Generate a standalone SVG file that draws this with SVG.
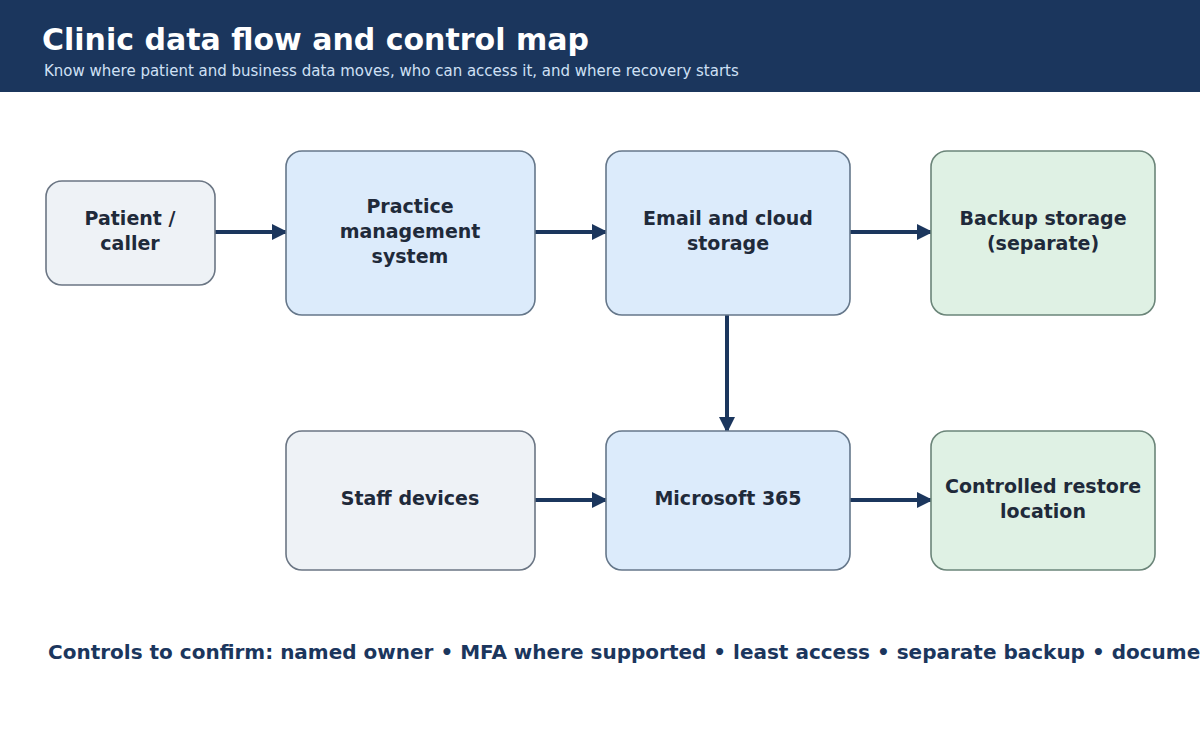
<svg xmlns="http://www.w3.org/2000/svg" width="1200" height="750" viewBox="0 0 1200 750">
<defs>
<style>
.title{font-family:"DejaVu Sans",sans-serif;font-weight:bold;font-size:30px;fill:#ffffff}
.sub{font-family:"DejaVu Sans",sans-serif;font-size:15px;fill:#cfe0f5}
.lbl{font-family:"DejaVu Sans",sans-serif;font-weight:bold;font-size:19px;fill:#1f2a3a;text-anchor:middle}
.foot{font-family:"DejaVu Sans",sans-serif;font-weight:bold;font-size:20px;fill:#1b365d}
.grey{fill:#eef2f6;stroke:#6b7684;stroke-width:1.6}
.blue{fill:#dcebfb;stroke:#65778a;stroke-width:1.6}
.green{fill:#dff1e4;stroke:#6b8579;stroke-width:1.6}
.edge{stroke:#1b365d;stroke-width:4;fill:none;marker-end:url(#arr)}
</style>
<marker id="arr" markerWidth="4" markerHeight="4" refX="3.5" refY="2" orient="auto" markerUnits="strokeWidth">
<path d="M0,0 L4,2 L0,4 Z" fill="#1b365d"/>
</marker>
</defs>
<rect x="0" y="0" width="1200" height="750" fill="#ffffff"/>
<rect x="0" y="0" width="1200" height="92" fill="#1b365d"/>
<text class="title" x="42" y="50">Clinic data flow and control map</text>
<text class="sub" x="44" y="76">Know where patient and business data moves, who can access it, and where recovery starts</text>
<g id="connectors">
<line class="edge" x1="215" y1="232" x2="286" y2="232"/>
<line class="edge" x1="535" y1="232" x2="606" y2="232"/>
<line class="edge" x1="850" y1="232" x2="931" y2="232"/>
<line class="edge" x1="727" y1="315" x2="727" y2="431"/>
<line class="edge" x1="535" y1="500" x2="606" y2="500"/>
<line class="edge" x1="850" y1="500" x2="931" y2="500"/>
</g>
<g id="patient">
<rect class="grey" x="46" y="181" width="169" height="104" rx="16"/>
<text class="lbl" x="130" y="225">Patient /</text>
<text class="lbl" x="130" y="250">caller</text>
</g>
<g id="pms">
<rect class="blue" x="286" y="151" width="249" height="164" rx="16"/>
<text class="lbl" x="410" y="213">Practice</text>
<text class="lbl" x="410" y="238">management</text>
<text class="lbl" x="410" y="263">system</text>
</g>
<g id="email">
<rect class="blue" x="606" y="151" width="244" height="164" rx="16"/>
<text class="lbl" x="728" y="225">Email and cloud</text>
<text class="lbl" x="728" y="250">storage</text>
</g>
<g id="backup">
<rect class="green" x="931" y="151" width="224" height="164" rx="16"/>
<text class="lbl" x="1043" y="225">Backup storage</text>
<text class="lbl" x="1043" y="250">(separate)</text>
</g>
<g id="staff">
<rect class="grey" x="286" y="431" width="249" height="139" rx="16"/>
<text class="lbl" x="410" y="505">Staff devices</text>
</g>
<g id="m365">
<rect class="blue" x="606" y="431" width="244" height="139" rx="16"/>
<text class="lbl" x="728" y="505">Microsoft 365</text>
</g>
<g id="restore">
<rect class="green" x="931" y="431" width="224" height="139" rx="16"/>
<text class="lbl" x="1043" y="493">Controlled restore</text>
<text class="lbl" x="1043" y="518">location</text>
</g>
<text class="foot" x="48" y="659">Controls to confirm: named owner • MFA where supported • least access • separate backup • documented restore test</text>
</svg>
